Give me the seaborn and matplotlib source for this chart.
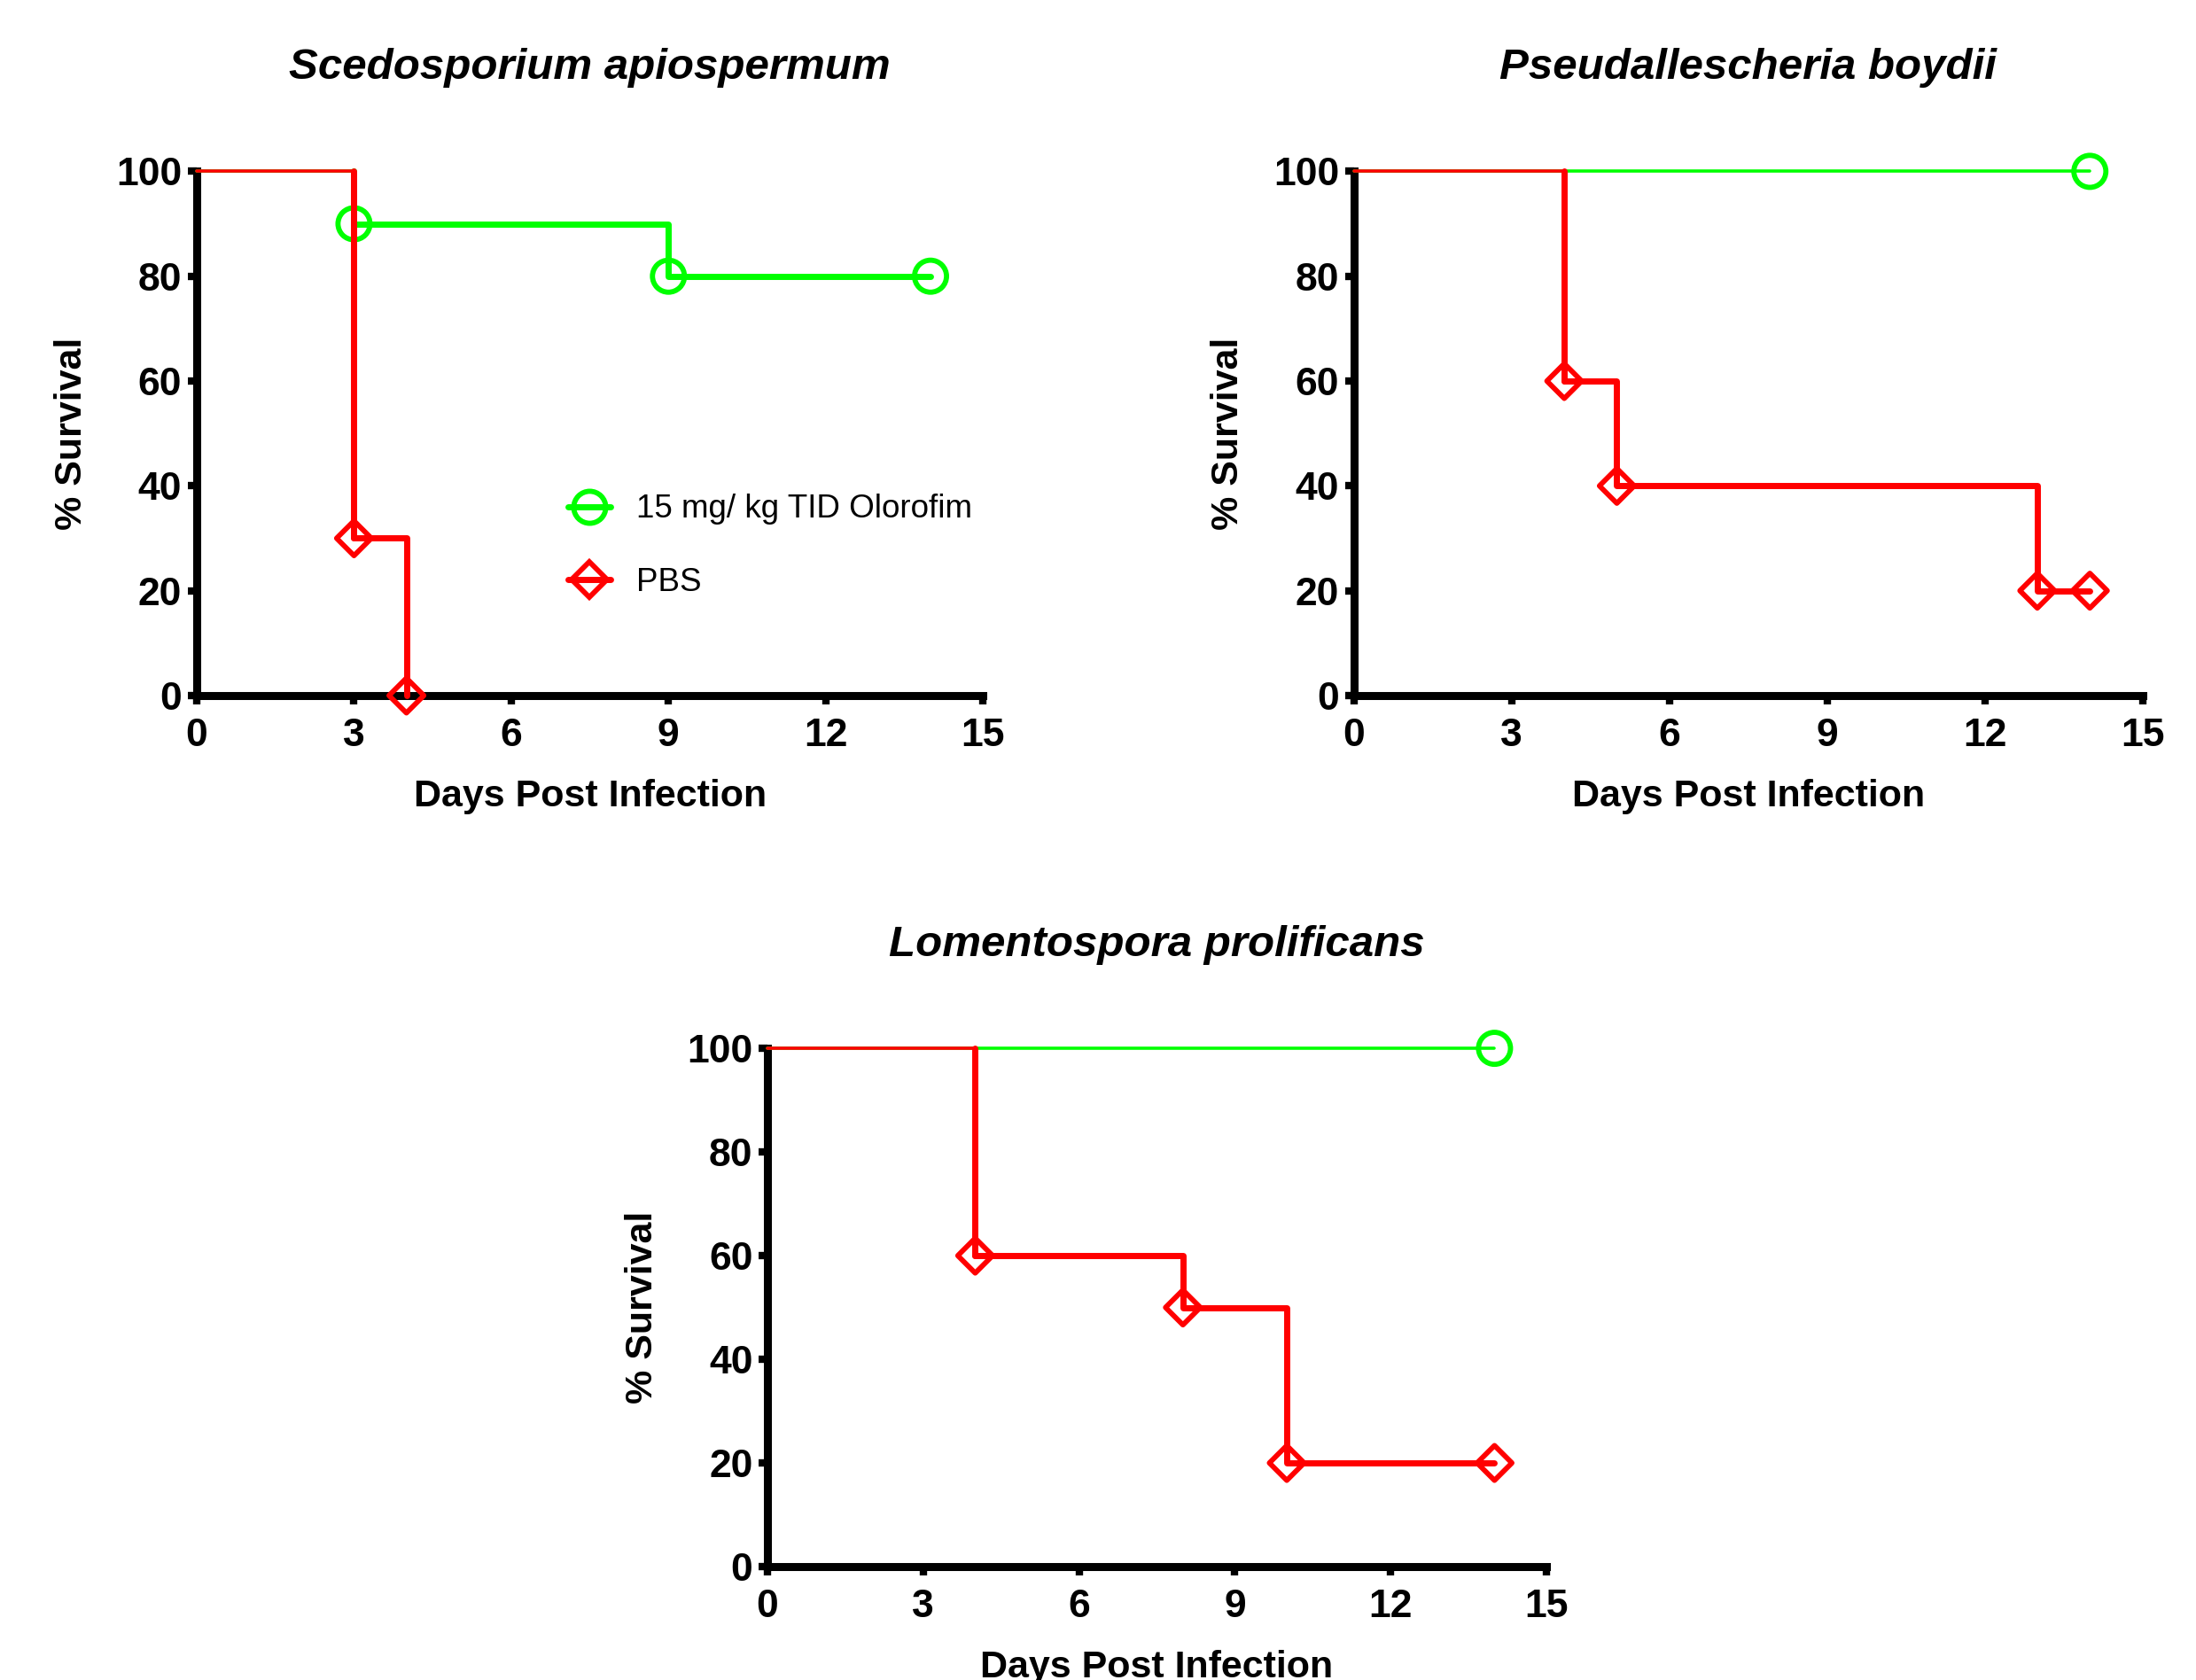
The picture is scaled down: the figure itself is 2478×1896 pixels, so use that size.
import matplotlib
matplotlib.use("Agg")
import matplotlib.pyplot as plt
from matplotlib.lines import Line2D
import seaborn as sns

# survival curves (day, % survival)
titulos = ["Scedosporium apiospermum", "Pseudallescheria boydii", "Lomentospora prolificans"]

olo_dias = [[0, 3, 9, 14], [0, 14], [0, 14]]
olo_surv = [[100, 90, 80, 80], [100, 100], [100, 100]]

pbs_dias = [[0, 3, 4], [0, 4, 5, 13, 14], [0, 4, 8, 10, 14]]
pbs_surv = [[100, 30, 0], [100, 60, 40, 20, 20], [100, 60, 50, 20, 20]]

rotulos = ["15 mg/ kg TID Olorofim", "PBS"]
ticks_x = [0, 3, 6, 9, 12, 15]
ticks_y = [0, 20, 40, 60, 80, 100]

VERDE = "#00ff00"
VERMELHO = "#ff0000"
GROSSA = 5.0
FINA = 2.6
BORDA = 4.2

sns.set_theme(style="ticks")
plt.rcParams["font.family"] = ["Liberation Sans", "DejaVu Sans"]
plt.rcParams["font.weight"] = "bold"
plt.rcParams["text.color"] = "black"
plt.rcParams["axes.labelcolor"] = "black"
plt.rcParams["xtick.color"] = "black"
plt.rcParams["ytick.color"] = "black"

fig = plt.figure(figsize=(24.78, 18.96), dpi=100)
posicoes = [
    [0.0896, 0.586, 0.358, 0.312],
    [0.6166, 0.586, 0.359, 0.312],
    [0.3495, 0.0675, 0.3547, 0.3085],
]


def desenha_curva(ax, dias, surv, cor, marcador, tam, z):
    """Curva de Kaplan-Meier no estilo do GraphPad."""
    # trecho inicial em 100% fica fino
    sns.lineplot(x=dias[:2], y=[surv[0], surv[0]], ax=ax, color=cor, linewidth=FINA,
                 zorder=z, clip_on=False, sort=False, estimator=None)
    if len(dias) > 2 or surv[-1] != surv[0]:
        sns.lineplot(x=dias[1:], y=surv[1:], ax=ax, color=cor, linewidth=GROSSA,
                     drawstyle="steps-post", zorder=z, clip_on=False, sort=False,
                     estimator=None)
        sns.lineplot(x=[dias[1], dias[1]], y=[surv[0], surv[1]], ax=ax, color=cor,
                     linewidth=GROSSA, zorder=z, clip_on=False, sort=False,
                     estimator=None)
    sns.scatterplot(x=dias[1:], y=surv[1:], ax=ax, marker=marcador, s=tam ** 2,
                    facecolor="none", edgecolor=cor, linewidth=BORDA, zorder=z + 0.5,
                    clip_on=False)


for i, pos in enumerate(posicoes):
    ax = fig.add_axes(pos)
    desenha_curva(ax, olo_dias[i], olo_surv[i], VERDE, "o", 26, 3)
    desenha_curva(ax, pbs_dias[i], pbs_surv[i], VERMELHO, "D", 20, 4)

    ax.set_xlim(0, 15)
    ax.set_ylim(0, 100)
    ax.set_xticks(ticks_x)
    ax.set_yticks(ticks_y)
    ax.tick_params(axis="both", length=7, width=6, labelsize=32, color="black")
    ax.tick_params(axis="x", pad=11)
    ax.tick_params(axis="y", pad=5)
    for lab in ax.get_xticklabels() + ax.get_yticklabels():
        lab.set_fontweight("bold")
    sns.despine(ax=ax)
    for lado in ["left", "bottom"]:
        ax.spines[lado].set_linewidth(6.5)
        ax.spines[lado].set_color("black")
        ax.spines[lado].set_capstyle("projecting")

    ax.set_xlabel("Days Post Infection", fontsize=31, fontweight="bold", labelpad=20)
    ax.set_ylabel("% Survival", fontsize=31, fontweight="bold", labelpad=22)
    ax.set_title(titulos[i], fontsize=35.5, fontweight="bold", fontstyle="italic", pad=75)

    if i == 0:
        alcas = [
            Line2D([0], [0], color=VERDE, lw=GROSSA, marker="o", markersize=26,
                   markerfacecolor="none", markeredgewidth=BORDA),
            Line2D([0], [0], color=VERMELHO, lw=GROSSA, marker="D", markersize=20,
                   markerfacecolor="none", markeredgewidth=BORDA),
        ]
        leg = ax.legend(alcas, rotulos, loc="center left", bbox_to_anchor=(0.435, 0.285),
                        frameon=False, handlelength=1.3, labelspacing=1.3,
                        handletextpad=0.8, prop={"size": 26.5, "weight": "normal"})

fig.savefig("out.png", dpi=100)
